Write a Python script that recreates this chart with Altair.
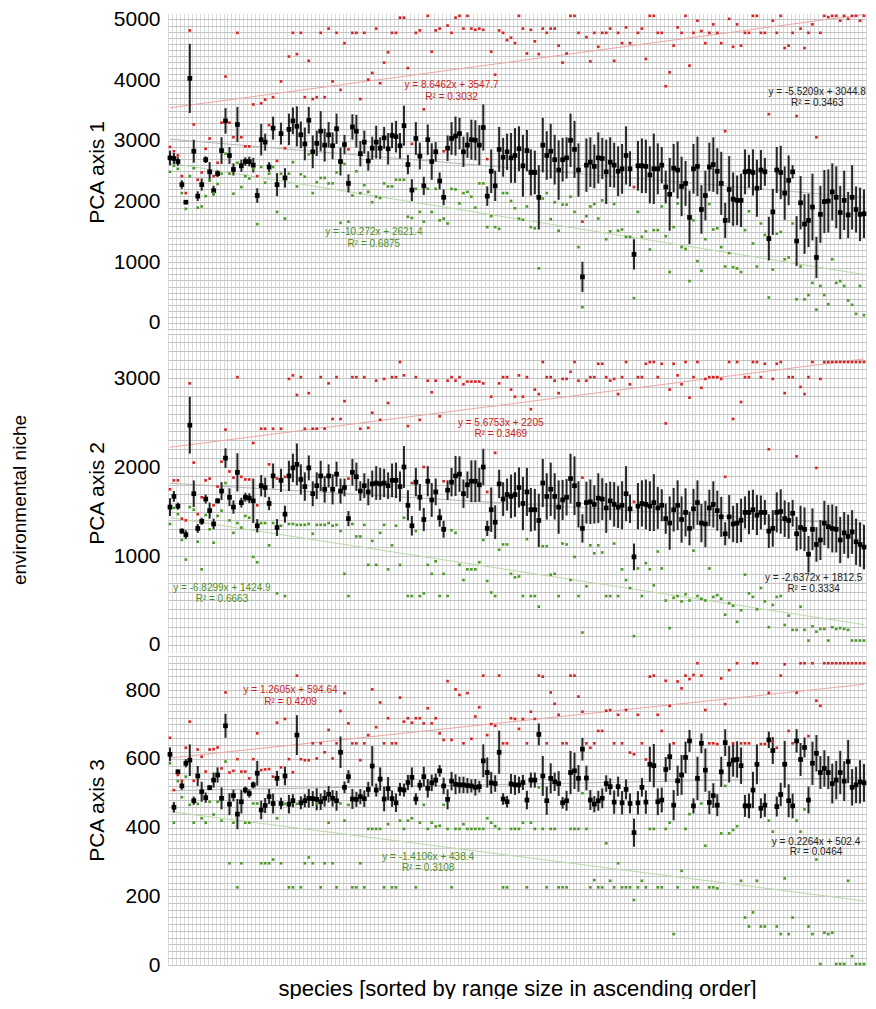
import altair as alt
import pandas as pd

FONT = "Liberation Sans"
N_SPECIES = 176

# ---------------- PCA axis 1 ----------------
p1_mean = [2720, 2710, 2660, 2280, 1990, 4030, 2830, 2090, 2280, 2690,
           2490, 2180, 2460, 2840, 3330, 2760, 2530, 3270, 2590, 2660,
           2660, 2600, 2100, 3020, 2980, 2570, 3210, 2280, 3120, 2390,
           3190, 3330, 3240, 3100, 2950, 3340, 2820, 2960, 3160, 2930,
           3100, 2920, 3200, 2660, 2940, 2300, 3230, 3160, 2790, 2980,
           2670, 2880, 2980, 2880, 3050, 2870, 3090, 3070, 2920, 3250,
           2610, 2190, 3040, 2750, 2260, 3020, 2660, 2820, 2340, 2070,
           2880, 3040, 3080, 3120, 2820, 2930, 3020, 3010, 2930, 3220,
           2090, 2500, 2260, 2860, 2730, 2820, 2720,
           2760, 2870, 2590, 2840, 2480, 2480, 2070, 2930, 2760, 2830,
           2690, 2520, 2690, 2720, 3010, 2860, 2520, 760, 2600, 2650,
           2580, 2720, 2710, 2490, 2650, 2600, 2500, 2540, 2760, 2540,
           1130, 2590, 2590, 2580, 2440, 2540, 2540, 2600, 2240, 2120,
           2550, 2520, 2250, 2300, 1740, 2540, 2580, 1870, 2100, 2570,
           2610, 2500, 2300, 1690, 2200, 2040, 2020, 2020, 2490, 2500,
           2480, 2220, 2520, 2490, 1390, 1830, 2520, 2480, 2140, 2350,
           2490, 1350, 1980, 1630, 1690, 1910, 1080, 1790, 2000, 2010,
           2160, 2070, 1820, 2020, 1780, 2070, 1870, 1790, 1800]
p1_err = [120, 90, 70, 70, 30, 570, 190, 80, 100, 55,
          160, 80, 55, 220, 210, 140, 100, 290, 100, 70,
          80, 120, 120, 260, 140, 80, 190, 190, 180, 160,
          260, 220, 330, 220, 270, 220, 270, 210, 330, 270,
          210, 220, 250, 230, 160, 150, 210, 270, 210, 190,
          160, 190, 270, 180, 180, 260, 210, 260, 210, 330,
          160, 180, 270, 220, 150, 250, 300, 160, 140, 130,
          210, 270, 320, 260, 250, 210, 330, 330, 330, 380,
          160, 360, 250, 370, 320, 300, 410,
          450, 370, 510, 340, 380, 360, 530, 450, 400, 450,
          410, 490, 360, 340, 440, 470, 440, 250, 440, 410,
          360, 420, 340, 530, 410, 370, 410, 410, 480, 290,
          250, 410, 450, 440, 470, 580, 420, 300, 270, 600,
          400, 470, 490, 370, 440, 410, 490, 400, 410, 400,
          450, 380, 520, 290, 550, 440, 410, 440, 370, 270,
          380, 470, 330, 230, 360, 380, 380, 440, 440, 410,
          110, 410, 440, 490, 440, 550, 340, 470, 520, 520,
          470, 510, 440, 490, 380, 530, 380, 440, 400]
p1_max = [2900, 2830, 2760, 2420, 2140, 4820, 3270, 2360, 2480, 2870,
          3040, 2420, 2640, 3300, 4060, 3300, 3060, 4780, 3060, 2910,
          2910, 3600, 2420, 3620, 3680, 3260, 3720, 2670, 3980, 2880,
          4390, 4780, 4430, 4780, 3720, 4320, 3690, 3720, 4780, 3720,
          4850, 3980, 4780, 3840, 4610, 2860, 4780, 4780, 3690, 4780,
          4010, 4120, 4850, 3950, 4290, 4460, 4780, 4780, 5030, 5030,
          4200, 2950, 4780, 4820, 3520, 5060, 4470, 4820, 4850, 2830,
          4900, 4780, 5030, 5060, 4850, 5060, 4850, 4830, 4850, 4830,
          2700, 4470, 4090, 4820, 4780, 4660, 4700,
          4610, 5060, 4850, 4440, 4830, 4640, 4430, 4850, 4780, 4850,
          4850, 4570, 4290, 4440, 5060, 5060, 4780, 1670, 4710, 4310,
          4780, 4550, 4780, 4780, 4850, 4320, 4780, 4610, 4870, 4610,
          2240, 4780, 4850, 4350, 5060, 5060, 4780, 4780, 3900, 4130,
          4570, 4870, 4780, 5060, 4240, 4780, 4980, 4810, 4610, 4780,
          4920, 4780, 4610, 3160, 5010, 4550, 4920, 4570, 4780, 4780,
          5060, 5060, 4780, 4780, 3440, 4980, 4780, 5060, 4530, 4570,
          4780, 3410, 4850, 4530, 4780, 4920, 3060, 4780, 5060, 5040,
          5060, 5060, 4980, 5060, 5010, 5060, 5060, 4980, 5060]
p1_min = [2490, 2590, 2540, 2140, 1880, 2420, 2550, 1900, 1920, 2090,
          2350, 2140, 2290, 2460, 2790, 2460, 2130, 2640, 2240, 2420,
          2380, 2540, 1630, 2570, 2310, 2460, 2570, 1830, 2460, 1720,
          2460, 2650, 2250, 2450, 2410, 2780, 2140, 2320, 2390, 2390,
          2300, 2300, 2480, 1650, 2620, 1670, 2100, 2500, 2140, 2270,
          2160, 1990, 2080, 2060, 2300, 2250, 2250, 2360, 2360, 2360,
          1750, 1730, 2210, 1830, 1670, 2210, 1830, 2210, 1690, 1720,
          1640, 2210, 2200, 1970, 2140, 2160, 2080, 1900, 2300, 2300,
          1580, 1760, 1580, 1550, 2140, 2140, 2010,
          1890, 1720, 1700, 1920, 1580, 1560, 900, 2050, 2140, 1710,
          1990, 1520, 1950, 1950, 2080, 1830, 1250, 260, 1760, 1920,
          1960, 1720, 2020, 1380, 1510, 1960, 1520, 1540, 1420, 1420,
          410, 1830, 1420, 1510, 1210, 1530, 1530, 1920, 1430, 840,
          1580, 1970, 1250, 1220, 690, 1690, 1020, 860, 1380, 1960,
          1540, 1560, 1250, 930, 1150, 920, 900, 840, 1530, 1840,
          1310, 930, 1640, 1450, 420, 880, 1470, 1500, 1050, 1080,
          1640, 390, 930, 390, 460, 660, 220, 610, 460, 310,
          1050, 660, 690, 610, 370, 300, 150, 610, 130]

# ---------------- PCA axis 2 ----------------
p2_mean = [1550, 1670, 1560, 1280, 1240, 2470, 1700, 1310, 1390, 1640,
           1510, 1360, 1620, 1730, 2100, 1660, 1550, 1940, 1600, 1660,
           1650, 1620, 1340, 1790, 1770, 1590, 1900, 1320, 1850, 1470,
           1900, 1990, 2030, 1860, 1780, 1990, 1700, 1790, 1900, 1750,
           1900, 1750, 1920, 1730, 1770, 1420, 1940, 1890, 1730, 1790,
           1720, 1810, 1820, 1810, 1820, 1790, 1850, 1850, 1780, 2000,
           1570, 1340, 1830, 1660, 1410, 1840, 1630, 1720, 1430, 1300,
           1740, 1830, 1900, 1920, 1700, 1800, 1840, 1840, 1800, 2000,
           1310, 1520, 1380, 1810, 1640, 1690, 1670,
           1690, 1770, 1590, 1720, 1520, 1520, 1400, 1820, 1670, 1750,
           1670, 1550, 1630, 1660, 1870, 1790, 1580, 1310, 1600, 1610,
           1580, 1650, 1640, 1540, 1620, 1580, 1550, 1570, 1700, 1530,
           990, 1560, 1590, 1580, 1560, 1600, 1540, 1570, 1420, 1370,
           1520, 1570, 1410, 1490, 1310, 1530, 1600, 1370, 1360, 1540,
           1580, 1510, 1440, 1250, 1440, 1360, 1370, 1400, 1490, 1490,
           1520, 1460, 1490, 1490, 1280, 1310, 1490, 1500, 1420, 1400,
           1480, 1250, 1320, 1300, 1020, 1300, 1130, 1180, 1370, 1330,
           1310, 1300, 1180, 1260, 1220, 1270, 1160, 1130, 1100]
p2_err = [100, 60, 40, 30, 50, 320, 150, 50, 40, 50,
          90, 60, 30, 100, 110, 100, 75, 215, 55, 50,
          55, 250, 75, 120, 110, 75, 140, 95, 130, 95,
          170, 160, 235, 170, 160, 140, 140, 150, 170, 150,
          130, 170, 140, 140, 100, 85, 150, 160, 110, 140,
          150, 150, 190, 180, 160, 150, 190, 200, 170, 235,
          170, 110, 160, 150, 130, 170, 190, 150, 100, 95,
          110, 160, 225, 200, 160, 150, 235, 235, 190, 205,
          85, 250, 190, 160, 190, 180, 245,
          250, 225, 300, 270, 245, 235, 300, 270, 260, 300,
          260, 300, 225, 205, 280, 330, 260, 160, 235, 250,
          215, 280, 235, 280, 215, 250, 235, 270, 310, 160,
          150, 260, 260, 280, 280, 320, 235, 180, 170, 300,
          245, 280, 260, 270, 190, 225, 250, 215, 260, 205,
          260, 225, 225, 130, 245, 205, 225, 245, 180, 245,
          225, 225, 190, 140, 190, 205, 225, 250, 205, 205,
          150, 190, 245, 245, 205, 235, 195, 225, 250, 245,
          270, 260, 260, 235, 245, 245, 260, 250, 250]
p2_max = [1750, 1850, 1850, 1420, 1400, 2940, 2050, 1470, 1660, 1850,
          1870, 1570, 1780, 2060, 2420, 1950, 1880, 3010, 1890, 1860,
          1860, 2270, 1570, 2430, 2430, 2030, 2430, 1870, 2430, 1890,
          2990, 3030, 2810, 3010, 2430, 2830, 2430, 2430, 3010, 2430,
          2940, 2540, 3010, 2540, 2740, 1870, 3010, 3010, 2430, 3010,
          2440, 2610, 2970, 2530, 2990, 2720, 3010, 3010, 3180, 3030,
          2460, 1820, 3010, 2530, 2000, 2970, 2840, 2970, 2570, 1840,
          2970, 3010, 2970, 3010, 2930, 2960, 2960, 2960, 2960, 2940,
          1720, 2790, 2160, 2940, 3010, 3010, 2870,
          2790, 3030, 2790, 3010, 2650, 2870, 2820, 3180, 3010, 3010,
          2970, 2830, 2990, 2990, 3070, 3180, 2970, 1880, 2970, 3010,
          3010, 3160, 3160, 3010, 2970, 2990, 2820, 3010, 3180, 2930,
          1610, 3010, 3010, 3160, 3180, 3180, 3010, 3160, 2490, 2870,
          3160, 3030, 2930, 3180, 2780, 3010, 3180, 2890, 2990, 3010,
          3010, 3010, 2990, 1890, 3180, 2540, 3180, 2730, 3010, 3010,
          3180, 3180, 3010, 3160, 2200, 2990, 3160, 3180, 2830, 3010,
          3010, 2120, 2900, 2820, 3010, 3180, 1990, 2990, 3180, 3180,
          3180, 3180, 3180, 3180, 3180, 3180, 3180, 3180, 3180]
p2_min = [1360, 1540, 1470, 1180, 960, 1550, 1520, 1160, 850, 1460,
          1300, 1150, 1450, 1510, 1820, 1400, 1260, 1370, 1320, 1450,
          1430, 990, 930, 1370, 1370, 1120, 1370, 580, 1340, 550,
          1360, 1360, 1350, 1350, 1350, 1360, 1250, 1350, 1350, 1350,
          1370, 1340, 1350, 1280, 800, 550, 1360, 1220, 1220, 1350,
          900, 1170, 900, 1260, 1350, 850, 1120, 1340, 900, 1430,
          550, 550, 1280, 550, 580, 900, 800, 940, 550, 800,
          550, 1290, 1260, 900, 730, 850, 850, 850, 930, 1180,
          720, 590, 550, 1070, 1130, 1130, 800,
          760, 770, 550, 1190, 550, 550, 430, 1110, 1110, 790,
          800, 550, 1140, 1130, 730, 990, 550, 140, 660, 1120,
          1030, 1120, 1040, 550, 550, 1140, 550, 850, 730, 640,
          100, 860, 550, 920, 850, 670, 1050, 860, 500, 190,
          530, 550, 490, 570, 500, 1060, 550, 520, 500, 860,
          540, 560, 520, 340, 470, 440, 260, 390, 790, 580,
          540, 400, 640, 490, 200, 450, 540, 550, 225, 330,
          170, 170, 430, 170, 50, 210, 150, 180, 180, 50,
          200, 180, 190, 180, 170, 50, 50, 50, 50]

# ---------------- PCA axis 3 ----------------
p3_mean = [613, 459, 562, 521, 587, 596, 478, 550, 504, 487,
           516, 538, 553, 485, 696, 468, 493, 439, 475, 509,
           499, 524, 558, 451, 464, 490, 470, 543, 470, 550,
           468, 478, 669, 472, 478, 485, 484, 482, 475, 485,
           497, 485, 478, 619, 517, 548, 483, 482, 490, 484,
           511, 579, 509, 541, 483, 513, 484, 472, 511, 509,
           531, 546, 483, 523, 548, 514, 530, 538, 565, 521,
           482, 535, 526, 524, 524, 522, 521, 517, 519, 594,
           560, 530, 528, 619, 483, 475, 527,
           524, 524, 531, 480, 538, 538, 671, 550, 478, 543,
           533, 528, 472, 478, 560, 565, 543, 628, 544, 480,
           468, 478, 485, 528, 519, 474, 519, 472, 511, 470,
           385, 472, 517, 474, 584, 580, 475, 480, 569, 606,
           465, 536, 553, 604, 652, 463, 543, 645, 567, 473,
           493, 465, 562, 647, 584, 596, 598, 580, 463, 463,
           509, 584, 456, 465, 655, 624, 461, 496, 584, 478,
           463, 652, 598, 633, 480, 587, 616, 560, 572, 560,
           528, 538, 560, 535, 592, 517, 524, 533, 530]
p3_err = [20, 15, 7, 11, 12, 46, 12, 29, 29, 15,
          7, 22, 22, 32, 35, 32, 17, 44, 34, 10,
          12, 10, 36, 27, 22, 22, 29, 22, 17, 27,
          27, 19, 58, 19, 19, 27, 22, 32, 24, 24,
          24, 24, 29, 46, 17, 19, 29, 22, 22, 24,
          22, 58, 19, 34, 36, 34, 24, 27, 19, 19,
          22, 29, 17, 15, 29, 27, 24, 19, 17, 24,
          29, 27, 29, 24, 24, 22, 19, 24, 17, 48,
          44, 32, 24, 63, 17, 17, 29,
          29, 24, 22, 27, 22, 22, 32, 58, 41, 44,
          27, 36, 17, 29, 63, 53, 39, 33, 36, 29,
          24, 29, 29, 24, 24, 34, 29, 34, 29, 29,
          41, 34, 27, 34, 51, 63, 39, 36, 36, 39,
          44, 44, 58, 46, 32, 22, 63, 29, 63, 34,
          36, 32, 44, 39, 53, 48, 53, 53, 32, 36,
          53, 58, 29, 34, 24, 39, 29, 34, 68, 48,
          36, 34, 48, 29, 39, 63, 53, 48, 53, 48,
          58, 56, 63, 58, 63, 53, 53, 63, 55]
p3_max = [661, 509, 553, 536, 632, 708, 536, 627, 606, 563,
          627, 628, 633, 572, 793, 560, 565, 599, 563, 563,
          543, 599, 674, 567, 569, 570, 548, 705, 575, 716,
          599, 561, 842, 599, 596, 596, 645, 601, 645, 619,
          684, 601, 645, 739, 791, 703, 645, 645, 596, 645,
          669, 802, 692, 764, 645, 718, 645, 645, 778, 708,
          718, 705, 718, 718, 703, 747, 703, 718, 674, 655,
          826, 655, 802, 786, 645, 791, 658, 723, 750, 842,
          669, 701, 696, 842, 645, 645, 718,
          716, 687, 716, 645, 737, 716, 842, 839, 645, 793,
          760, 728, 645, 645, 842, 842, 781, 737, 645, 632,
          645, 681, 681, 740, 742, 645, 728, 645, 742, 618,
          613, 728, 645, 598, 839, 842, 728, 681, 827, 754,
          645, 825, 805, 842, 832, 844, 878, 842, 742, 645,
          645, 643, 834, 759, 858, 645, 878, 645, 645, 645,
          878, 878, 643, 643, 792, 650, 632, 842, 875, 681,
          645, 792, 878, 878, 666, 878, 769, 754, 878, 878,
          878, 878, 878, 878, 878, 878, 878, 878, 878]
p3_min = [587, 414, 535, 488, 548, 466, 414, 469, 427, 414,
          475, 438, 475, 420, 592, 296, 414, 226, 296, 414,
          414, 470, 470, 296, 296, 296, 307, 427, 296, 469,
          226, 226, 469, 226, 296, 313, 296, 470, 226, 296,
          414, 296, 226, 470, 420, 466, 226, 226, 296, 226,
          396, 396, 396, 396, 226, 410, 226, 226, 420, 396,
          420, 427, 226, 414, 466, 396, 414, 403, 405, 466,
          396, 226, 396, 396, 410, 396, 396, 396, 396, 396,
          427, 414, 404, 396, 226, 226, 396,
          396, 396, 414, 226, 414, 396, 517, 396, 226, 396,
          396, 226, 226, 226, 396, 396, 396, 500, 396, 226,
          247, 226, 226, 354, 245, 226, 296, 226, 226, 226,
          189, 226, 245, 226, 396, 396, 226, 226, 396, 414,
          90, 226, 274, 396, 439, 226, 226, 470, 347, 226,
          226, 223, 383, 521, 383, 393, 404, 245, 138, 112,
          153, 245, 112, 112, 420, 388, 112, 90, 252, 90,
          138, 420, 388, 453, 112, 90, 307, 3, 94, 90,
          94, 3, 3, 3, 245, 26, 3, 3, 3]

# ---------------- trend-line equation labels ----------------
p1_eq_text = ["y = 8.6462x + 3547.7", "R² = 0.3032",
              "y = -5.5209x + 3044.8", "R² = 0.3463",
              "y = -10.272x + 2621.4", "R² = 0.6875"]
p1_eq_x = [72, 72, 164.2, 164.2, 52.4, 52.4]
p1_eq_y = [3927, 3729, 3812, 3630, 1502, 1304]
p2_eq_text = ["y = 5.6753x + 2205", "R² = 0.3469",
              "y = -2.6372x + 1812.5", "R² = 0.3334",
              "y = -6.8299x + 1424.9", "R² = 0.6663"]
p2_eq_x = [84.4, 84.4, 163.3, 163.3, 14.1, 14.1]
p2_eq_y = [2498, 2371, 753, 629, 644, 517]
p3_eq_text = ["y = 1.2605x + 594.64", "R² = 0.4209",
              "y = 0.2264x + 502.4", "R² = 0.0464",
              "y = -1.4106x + 438.4", "R² = 0.3108"]
p3_eq_x = [31.4, 31.4, 163.9, 163.9, 66.1, 66.1]
p3_eq_y = [800, 766, 357, 328, 313, 281]
eq_colors = ["#cc2222", "#cc2222", "#222222", "#222222", "#4f8f22", "#4f8f22"]

RED = "#d42424"
GREEN = "#4e9a28"
W = 698


def make_panel(mean, err, mx, mn, domain, height, grid_vals, label_step, ytitle,
               eq_text, eq_x, eq_y, bottom=False, extra=()):
    xscale = alt.Scale(domain=[0.5, N_SPECIES + 0.5], nice=False, zero=False)
    yscale = alt.Scale(domain=domain, nice=False, zero=False)
    xkw = dict(values=[k + 0.5 for k in range(N_SPECIES + 1)], grid=True,
               gridColor="#d9d9d9", gridWidth=1, labels=False, ticks=False,
               domain=False)
    if bottom:
        xkw.update(title="species [sorted by range size in ascending order]",
                   titleFont=FONT, titleFontSize=22, titleFontWeight="normal",
                   titleColor="black", titlePadding=13)
    else:
        xkw.update(title="")
    xaxis = alt.Axis(**xkw)
    yaxis = alt.Axis(values=grid_vals, grid=True, gridColor="#c4c4c4", gridWidth=1,
                     ticks=False, domain=False, format="d", labelOverlap=False,
                     labelExpr=f"datum.value % {label_step} === 0 ? datum.label : ''",
                     labelFont=FONT, labelFontSize=21, labelColor="black",
                     labelPadding=8, title=ytitle, titleFont=FONT, titleFontSize=21,
                     titleFontWeight="normal", titleColor="black", titleAngle=270,
                     titleX=-71, titleY=height / 2, titleAlign="center",
                     titleBaseline="middle")

    def X(f):
        return alt.X(f, type="quantitative", scale=xscale, axis=xaxis)

    def Y(f):
        return alt.Y(f, type="quantitative", scale=yscale, axis=yaxis)

    dmean = pd.DataFrame({
        "i": list(range(1, len(mean) + 1)),
        "m": mean,
        "lo": [a - b for a, b in zip(mean, err)],
        "hi": [a + b for a, b in zip(mean, err)],
    })
    dmax = pd.DataFrame({"i": list(range(1, len(mx) + 1)), "v": mx})
    dmin = pd.DataFrame({"i": list(range(1, len(mn) + 1)), "v": mn})
    deq = pd.DataFrame({"t": eq_text, "x": eq_x, "y": eq_y, "c": eq_colors})

    t_mean = alt.Chart(dmean).transform_regression(
        "i", "m", extent=[1, N_SPECIES]).mark_line(
        color="#b5b5b5", strokeWidth=1).encode(x=X("i"), y=Y("m"))
    t_max = alt.Chart(dmax).transform_regression(
        "i", "v", extent=[1, N_SPECIES]).mark_line(
        color="#eda5a5", strokeWidth=1).encode(x=X("i"), y=Y("v"))
    t_min = alt.Chart(dmin).transform_regression(
        "i", "v", extent=[1, N_SPECIES]).mark_line(
        color="#bcd8a8", strokeWidth=1).encode(x=X("i"), y=Y("v"))
    bars = alt.Chart(dmean).mark_rule(color="#262626", strokeWidth=2).encode(
        x=X("i"), y=Y("lo"), y2=alt.Y2("hi"))
    pts = alt.Chart(dmean).mark_square(size=22, color="black", opacity=1).encode(
        x=X("i"), y=Y("m"))
    red = alt.Chart(dmax).mark_square(size=7, color=RED, opacity=1).encode(
        x=X("i"), y=Y("v"))
    green = alt.Chart(dmin).mark_square(size=7, color=GREEN, opacity=1).encode(
        x=X("i"), y=Y("v"))
    eq = alt.Chart(deq).mark_text(font=FONT, fontSize=10).encode(
        x=X("x"), y=Y("y"), text="t:N", color=alt.Color("c:N", scale=None))
    return alt.layer(t_mean, t_max, t_min, bars, pts, red, green, eq,
                     *extra).properties(width=W, height=height)


niche = alt.Chart(pd.DataFrame({"t": ["environmental niche"]})).mark_text(
    font=FONT, fontSize=19, angle=270, color="black").encode(
    text="t:N", x=alt.value(-148), y=alt.value(167))

panel1 = make_panel(p1_mean, p1_err, p1_max, p1_min, [-132, 5107], 318,
                    list(range(-100, 5001, 100)), 1000, "PCA axis 1",
                    p1_eq_text, p1_eq_x, p1_eq_y)
panel2 = make_panel(p2_mean, p2_err, p2_max, p2_min, [-90, 3506], 320,
                    list(range(0, 3501, 100)), 1000, "PCA axis 2",
                    p2_eq_text, p2_eq_x, p2_eq_y, extra=(niche,))
panel3 = make_panel(p3_mean, p3_err, p3_max, p3_min, [0, 902], 310,
                    list(range(0, 901, 20)), 200, "PCA axis 3",
                    p3_eq_text, p3_eq_x, p3_eq_y, bottom=True)

chart = alt.vconcat(panel1, panel2, panel3, spacing=2, bounds="flush").properties(
    padding={"left": 3, "top": 0, "right": 0, "bottom": 0},
    background="white",
).configure_view(strokeWidth=0)

chart.save("out.html", embed_options={"renderer": "svg", "actions": False})
